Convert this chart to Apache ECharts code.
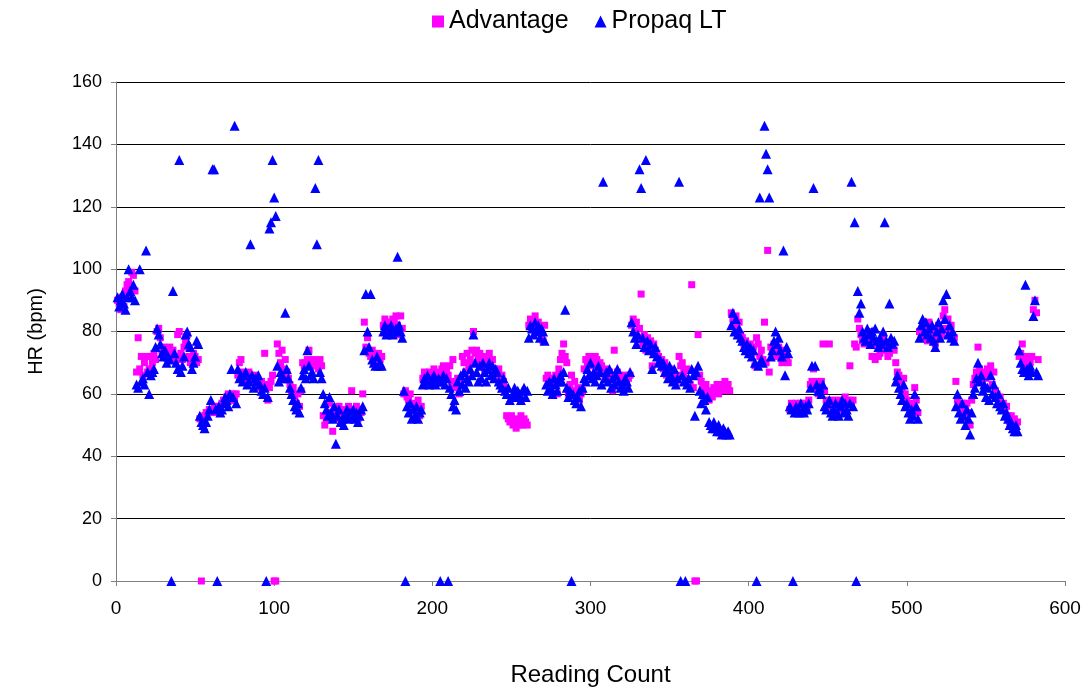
<!DOCTYPE html>
<html>
<head>
<meta charset="utf-8">
<script src="https://cdn.jsdelivr.net/npm/echarts@6/dist/echarts.min.js"></script>
<style>
html,body{margin:0;padding:0;background:#fff;}
#chart{width:1088px;height:692px;}
</style>
</head>
<body>
<div id="chart"></div>
<script>
var seriesNames = ["Advantage", "Propaq LT"];
var yTicks = [0, 20, 40, 60, 80, 100, 120, 140, 160];
var xTicks = [0, 100, 200, 300, 400, 500, 600];

var propaq = [
91,88,90,92,89,87,91,100,93,91,95,90,
63,62,100,64,65,63,106,67,60,66,
67,68,75,81,79,76,73,72,74,70,72,71,
0,93,73,70,68,135,67,69,72,79,80,76,75,68,70,72,77,76,53,51,
50,49,51,53,55,58,132,132,55,0,56,54,55,57,59,58,56,60,68,59,146,57,
68,65,66,64,66,67,63,64,108,66,62,65,64,66,63,61,60,62,0,59,113,115,135,123,117,
69,64,67,66,65,86,68,65,62,60,58,
56,55,57,54,62,66,68,65,74,69,66,67,65,126,108,135,67,65,60,57,55,53,59,54,52,56,44,53,55,51,52,50,53,55,52,54,53,55,52,54,
51,53,55,56,74,92,80,75,92,71,70,69,72,69,70,69,80,82,79,81,80,82,79,80,81,104,82,80,78,61,0,56,54,57,52,55,53,56,52,54,55,63,65,64,66,63,64,65,66,63,64,65,0,
64,66,63,65,0,62,60,56,58,55,64,61,66,63,67,62,65,64,68,66,79,70,67,64,69,65,70,67,64,68,70,66,69,65,68,67,64,63,62,65,61,60,62,58,59,
60,62,59,61,60,58,61,62,59,61,78,82,81,79,83,80,82,78,81,80,77,63,61,64,62,60,65,63,61,64,66,64,67,87,62,59,61,0,60,58,57,59,61,56,62,
65,64,68,66,70,65,67,64,66,69,67,63,128,65,67,64,68,62,65,63,66,68,64,62,63,61,65,64,62,67,83,80,78,76,79,132,126,78,75,135,77,74,76,68,73,75,72,70,71,69,70,67,68,65,69,66,64,68,63,65,
128,0,66,64,0,63,65,62,68,66,53,67,69,61,57,60,58,55,59,51,50,49,51,49,48,50,48,47,49,48,47,48,47,82,86,80,84,79,81,78,77,75,74,
76,73,75,72,74,70,0,69,123,71,70,146,137,132,123,72,74,77,80,76,78,74,72,106,66,75,73,56,55,0,54,56,55,54,57,55,54,56,55,57,62,69,126,69,63,61,62,60,63,56,55,57,
58,54,53,55,57,54,53,56,58,54,57,55,53,57,128,56,115,0,93,86,89,80,78,77,81,79,76,80,78,81,77,75,78,76,80,115,77,75,89,78,76,77,64,66,62,60,58,63,56,57,54,52,55,53,
60,56,52,78,82,84,80,83,79,81,78,82,77,75,80,83,78,81,90,84,92,79,82,78,80,77,56,60,54,52,57,53,50,55,52,47,54,60,62,65,70,64,66,61,63,59,
62,58,66,60,63,59,57,60,56,55,57,53,54,52,50,51,49,48,50,48,74,70,68,67,95,68,66,69,67,85,90,67,66
];

var advantage = [
90,89,87,91,88,93,95,96,92,99,98,93,
67,78,68,72,66,70,72,67,68,72,
70,73,71,80,81,78,74,75,72,73,71,75,
73,74,72,71,79,80,73,71,75,77,79,72,70,71,73,72,70,71,52,0,
52,53,54,54,55,54,55,56,54,55,56,55,57,58,57,59,60,58,59,60,58,60,
66,70,71,67,64,66,65,67,66,65,64,66,65,63,62,64,62,73,63,58,62,64,66,0,0,
76,73,70,74,68,71,67,65,63,61,62,
58,57,60,56,61,70,69,70,71,74,70,69,71,69,70,68,71,69,53,50,52,54,57,53,48,55,52,54,56,53,54,55,52,54,56,55,61,54,53,56,
52,55,54,60,83,75,78,73,72,74,72,71,70,73,71,72,82,84,79,83,80,81,84,83,85,82,79,85,81,60,61,59,58,60,56,57,55,54,58,53,56,65,67,66,64,67,65,66,68,64,66,67,65,
68,69,67,68,66,69,64,71,62,63,65,60,65,72,70,67,73,69,71,74,80,73,74,71,73,70,72,68,69,71,73,70,71,68,67,66,68,65,66,64,62,53,52,51,53,
50,52,49,51,50,53,50,52,51,50,82,84,81,83,85,82,83,80,79,77,82,65,66,62,65,63,64,66,60,68,71,73,76,72,70,60,63,66,61,64,60,62,58,60,61,
68,71,70,72,69,71,70,72,71,68,70,69,67,66,68,65,67,66,61,74,65,67,66,64,65,63,66,62,65,66,82,84,80,83,78,81,92,76,79,74,78,75,77,69,76,74,73,72,70,71,68,70,66,67,68,65,67,66,64,66,
72,69,70,67,65,68,64,63,95,62,0,0,79,66,64,62,60,63,61,58,60,59,62,61,63,60,62,63,61,64,62,63,61,86,84,82,85,80,83,79,78,76,77,
75,74,76,73,75,69,78,76,72,74,71,83,70,106,67,75,73,76,74,72,75,73,70,74,71,72,70,55,57,56,55,57,56,55,57,56,55,57,56,58,63,64,68,62,64,60,63,64,76,61,58,56,
76,57,58,56,55,57,58,57,55,56,59,57,58,69,57,58,76,75,84,81,79,77,76,78,77,80,78,72,76,71,76,72,73,77,79,74,75,72,73,76,75,74,70,67,66,64,61,65,60,58,56,55,57,56,
62,58,54,80,79,81,78,82,77,83,80,79,81,76,78,82,80,79,85,87,81,84,80,82,79,78,64,58,56,55,57,56,55,57,54,50,58,63,65,67,75,68,64,67,66,65,
68,66,69,63,67,61,60,58,59,56,57,55,56,53,51,53,50,52,49,51,72,73,76,71,72,69,71,70,72,87,90,86,71
];

function toPoints(arr) {
  return arr.map(function (v, i) { return [i + 1, v]; });
}

var chart = echarts.init(document.getElementById('chart'));
var font = "'Liberation Sans', Arial, sans-serif";
chart.setOption({
  animation: false,
  backgroundColor: '#ffffff',
  textStyle: { fontFamily: font },
  legend: {
    data: [
      { name: seriesNames[0], icon: 'rect' },
      { name: seriesNames[1], icon: 'triangle' }
    ],
    left: 427,
    top: 4,
    itemWidth: 12,
    itemHeight: 12,
    itemGap: 26,
    textStyle: { fontSize: 25, color: '#000', fontFamily: font }
  },
  grid: { left: 116, right: 23, top: 82, bottom: 111, containLabel: false },
  xAxis: {
    type: 'value',
    min: xTicks[0],
    max: xTicks[xTicks.length - 1],
    interval: 100,
    name: 'Reading Count',
    nameLocation: 'middle',
    nameGap: 82,
    nameTextStyle: { fontSize: 24, color: '#000', fontFamily: font },
    axisLine: { show: true, onZero: false, lineStyle: { color: '#808080', width: 1 } },
    axisTick: { show: true, inside: false, length: 5, lineStyle: { color: '#808080' } },
    axisLabel: { fontSize: 19, color: '#000', margin: 18, fontFamily: font },
    splitLine: { show: false }
  },
  yAxis: {
    type: 'value',
    min: yTicks[0],
    max: yTicks[yTicks.length - 1],
    interval: 20,
    name: 'HR (bpm)',
    nameLocation: 'middle',
    nameGap: 70,
    nameRotate: 90,
    nameTextStyle: { fontSize: 20, color: '#000', fontFamily: font },
    axisLine: { show: true, lineStyle: { color: '#808080', width: 1 } },
    axisTick: { show: true, inside: false, length: 5, lineStyle: { color: '#808080' } },
    axisLabel: { fontSize: 18, color: '#000', margin: 14, fontFamily: font },
    splitLine: { show: true, lineStyle: { color: '#000', width: 1 } }
  },
  series: [
    {
      name: seriesNames[0],
      type: 'scatter',
      symbol: 'rect',
      symbolSize: 7,
      itemStyle: { color: '#FF00FF', opacity: 1 },
      data: toPoints(advantage),
      z: 2
    },
    {
      name: seriesNames[1],
      type: 'scatter',
      symbol: 'triangle',
      symbolSize: 10,
      itemStyle: { color: '#0000FF', opacity: 1 },
      data: toPoints(propaq),
      z: 3
    }
  ]
});
</script>
</body>
</html>
